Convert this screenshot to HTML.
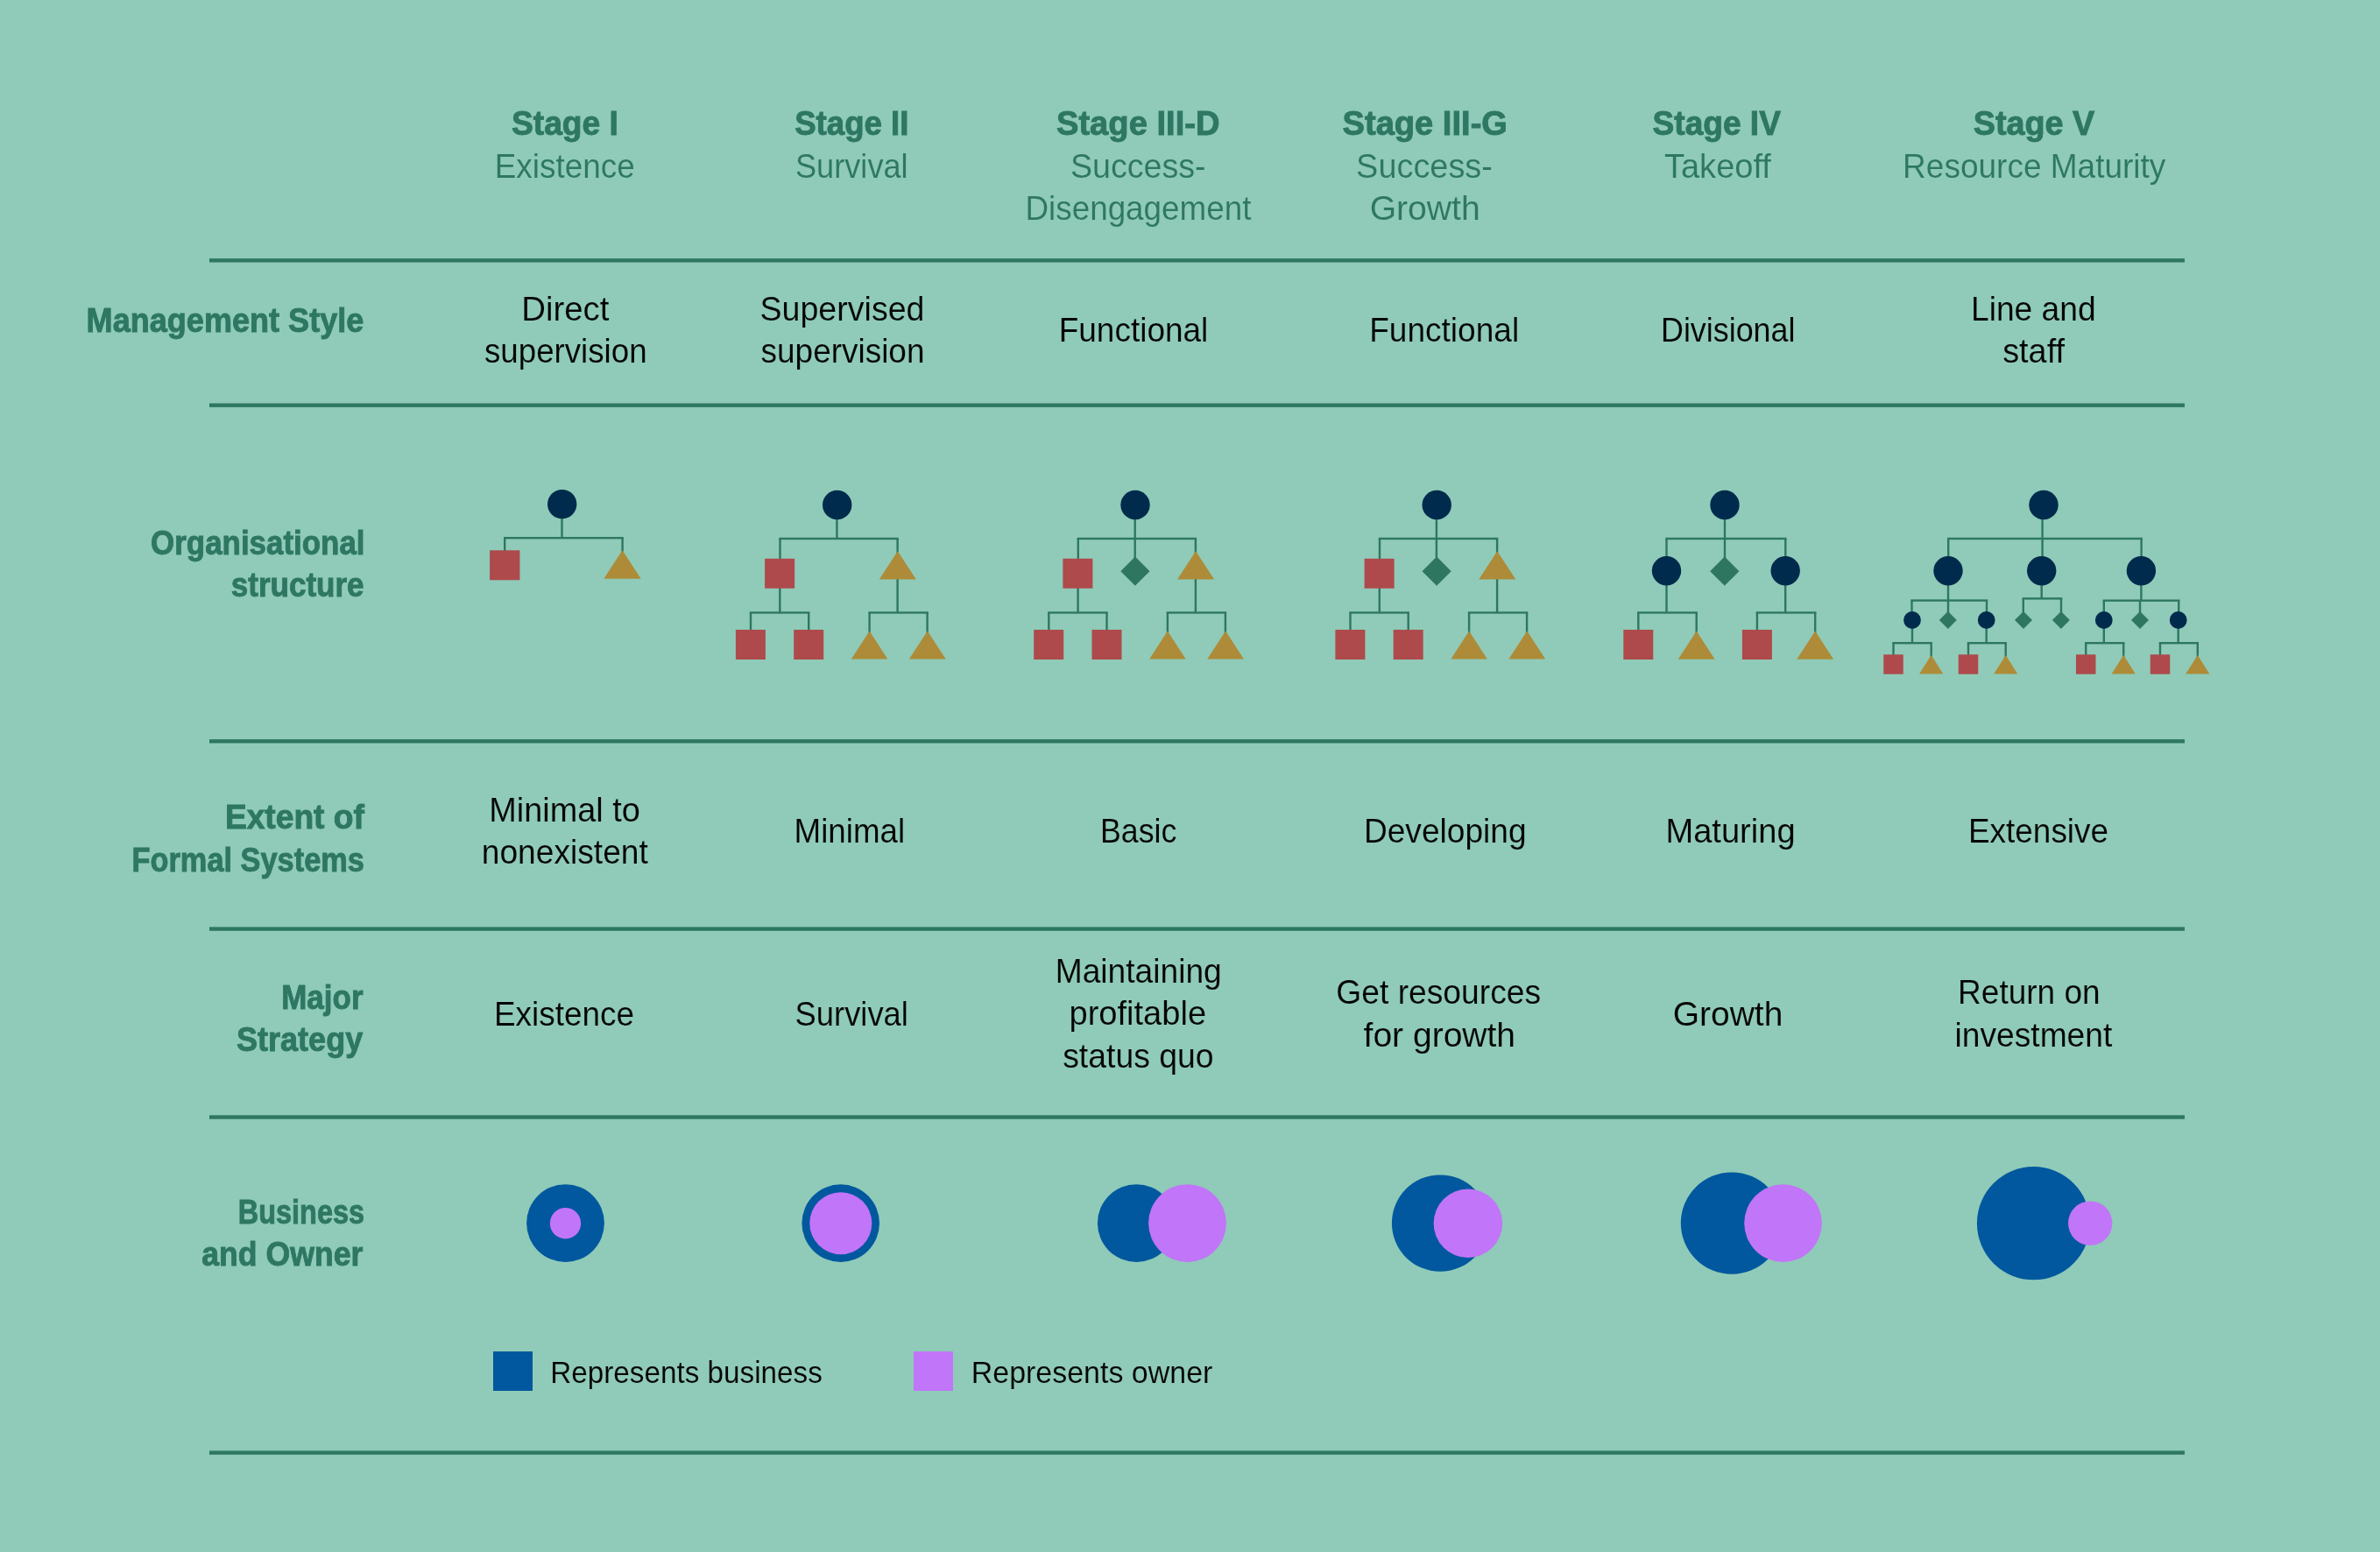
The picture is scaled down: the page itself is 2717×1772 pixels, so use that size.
<!DOCTYPE html>
<html><head><meta charset="utf-8"><title>Stages of small business growth</title>
<style>
html,body{margin:0;padding:0;background:#8fcbb8;}
body{width:2717px;height:1772px;overflow:hidden;}
svg{display:block;font-family:"Liberation Sans",sans-serif;will-change:transform;}
</style></head>
<body>
<svg width="2717" height="1772" viewBox="0 0 2717 1772">
<rect x="0" y="0" width="2717" height="1772" fill="#8fcbb8"/>
<rect x="239.00" y="295.10" width="2255.00" height="4.40" fill="#2e7762"/>
<rect x="239.00" y="460.50" width="2255.00" height="4.40" fill="#2e7762"/>
<rect x="239.00" y="844.10" width="2255.00" height="4.40" fill="#2e7762"/>
<rect x="239.00" y="1058.40" width="2255.00" height="4.40" fill="#2e7762"/>
<rect x="239.00" y="1273.30" width="2255.00" height="4.40" fill="#2e7762"/>
<rect x="239.00" y="1656.40" width="2255.00" height="4.40" fill="#2e7762"/>
<rect x="640.30" y="590.00" width="2.4" height="25.00" fill="#2e7762"/>
<rect x="575.00" y="613.00" width="136.80" height="2.4" fill="#2e7762"/>
<rect x="575.00" y="614.00" width="2.4" height="16.00" fill="#2e7762"/>
<rect x="709.40" y="614.00" width="2.4" height="16.00" fill="#2e7762"/>
<rect x="954.20" y="590.00" width="2.4" height="25.00" fill="#2e7762"/>
<rect x="889.30" y="613.80" width="136.50" height="2.4" fill="#2e7762"/>
<rect x="889.30" y="615.00" width="2.4" height="25.00" fill="#2e7762"/>
<rect x="1023.40" y="615.00" width="2.4" height="20.00" fill="#2e7762"/>
<rect x="889.10" y="670.00" width="2.4" height="29.50" fill="#2e7762"/>
<rect x="855.80" y="698.30" width="68.60" height="2.4" fill="#2e7762"/>
<rect x="855.80" y="699.50" width="2.4" height="21.50" fill="#2e7762"/>
<rect x="922.00" y="699.50" width="2.4" height="21.50" fill="#2e7762"/>
<rect x="1023.40" y="660.00" width="2.4" height="39.50" fill="#2e7762"/>
<rect x="991.40" y="698.30" width="68.40" height="2.4" fill="#2e7762"/>
<rect x="991.40" y="699.50" width="2.4" height="25.50" fill="#2e7762"/>
<rect x="1057.40" y="699.50" width="2.4" height="25.50" fill="#2e7762"/>
<rect x="1294.50" y="590.00" width="2.4" height="50.00" fill="#2e7762"/>
<rect x="1229.60" y="613.80" width="136.50" height="2.4" fill="#2e7762"/>
<rect x="1229.60" y="615.00" width="2.4" height="25.00" fill="#2e7762"/>
<rect x="1363.70" y="615.00" width="2.4" height="20.00" fill="#2e7762"/>
<rect x="1229.40" y="670.00" width="2.4" height="29.50" fill="#2e7762"/>
<rect x="1196.10" y="698.30" width="68.60" height="2.4" fill="#2e7762"/>
<rect x="1196.10" y="699.50" width="2.4" height="21.50" fill="#2e7762"/>
<rect x="1262.30" y="699.50" width="2.4" height="21.50" fill="#2e7762"/>
<rect x="1363.70" y="660.00" width="2.4" height="39.50" fill="#2e7762"/>
<rect x="1331.70" y="698.30" width="68.40" height="2.4" fill="#2e7762"/>
<rect x="1331.70" y="699.50" width="2.4" height="25.50" fill="#2e7762"/>
<rect x="1397.70" y="699.50" width="2.4" height="25.50" fill="#2e7762"/>
<rect x="1638.70" y="590.00" width="2.4" height="50.00" fill="#2e7762"/>
<rect x="1573.80" y="613.80" width="136.50" height="2.4" fill="#2e7762"/>
<rect x="1573.80" y="615.00" width="2.4" height="25.00" fill="#2e7762"/>
<rect x="1707.90" y="615.00" width="2.4" height="20.00" fill="#2e7762"/>
<rect x="1573.60" y="670.00" width="2.4" height="29.50" fill="#2e7762"/>
<rect x="1540.30" y="698.30" width="68.60" height="2.4" fill="#2e7762"/>
<rect x="1540.30" y="699.50" width="2.4" height="21.50" fill="#2e7762"/>
<rect x="1606.50" y="699.50" width="2.4" height="21.50" fill="#2e7762"/>
<rect x="1707.90" y="660.00" width="2.4" height="39.50" fill="#2e7762"/>
<rect x="1675.90" y="698.30" width="68.40" height="2.4" fill="#2e7762"/>
<rect x="1675.90" y="699.50" width="2.4" height="25.50" fill="#2e7762"/>
<rect x="1741.90" y="699.50" width="2.4" height="25.50" fill="#2e7762"/>
<rect x="1967.80" y="590.00" width="2.4" height="50.00" fill="#2e7762"/>
<rect x="1901.30" y="613.80" width="138.20" height="2.4" fill="#2e7762"/>
<rect x="1901.30" y="615.00" width="2.4" height="25.00" fill="#2e7762"/>
<rect x="2037.10" y="615.00" width="2.4" height="25.00" fill="#2e7762"/>
<rect x="1901.30" y="660.00" width="2.4" height="39.50" fill="#2e7762"/>
<rect x="1869.10" y="698.30" width="68.80" height="2.4" fill="#2e7762"/>
<rect x="1869.10" y="699.50" width="2.4" height="21.50" fill="#2e7762"/>
<rect x="1935.50" y="699.50" width="2.4" height="25.50" fill="#2e7762"/>
<rect x="2037.00" y="660.00" width="2.4" height="39.50" fill="#2e7762"/>
<rect x="2004.70" y="698.30" width="68.70" height="2.4" fill="#2e7762"/>
<rect x="2004.70" y="699.50" width="2.4" height="21.50" fill="#2e7762"/>
<rect x="2071.00" y="699.50" width="2.4" height="25.50" fill="#2e7762"/>
<rect x="2330.40" y="590.00" width="2.4" height="50.00" fill="#2e7762"/>
<rect x="2223.00" y="613.80" width="222.80" height="2.4" fill="#2e7762"/>
<rect x="2223.00" y="615.00" width="2.4" height="25.00" fill="#2e7762"/>
<rect x="2443.40" y="615.00" width="2.4" height="25.00" fill="#2e7762"/>
<rect x="2222.80" y="660.00" width="2.4" height="25.60" fill="#2e7762"/>
<rect x="2181.30" y="684.40" width="87.90" height="2.4" fill="#2e7762"/>
<rect x="2181.30" y="685.60" width="2.4" height="16.40" fill="#2e7762"/>
<rect x="2222.80" y="685.60" width="2.4" height="16.40" fill="#2e7762"/>
<rect x="2266.80" y="685.60" width="2.4" height="16.40" fill="#2e7762"/>
<rect x="2329.50" y="660.00" width="2.4" height="23.40" fill="#2e7762"/>
<rect x="2308.60" y="682.20" width="45.60" height="2.4" fill="#2e7762"/>
<rect x="2308.60" y="683.40" width="2.4" height="18.60" fill="#2e7762"/>
<rect x="2351.80" y="683.40" width="2.4" height="18.60" fill="#2e7762"/>
<rect x="2443.20" y="660.00" width="2.4" height="25.70" fill="#2e7762"/>
<rect x="2400.60" y="684.50" width="87.80" height="2.4" fill="#2e7762"/>
<rect x="2400.60" y="685.70" width="2.4" height="16.30" fill="#2e7762"/>
<rect x="2441.80" y="685.70" width="2.4" height="16.30" fill="#2e7762"/>
<rect x="2486.00" y="685.70" width="2.4" height="16.30" fill="#2e7762"/>
<rect x="2181.80" y="712.00" width="2.4" height="22.20" fill="#2e7762"/>
<rect x="2160.30" y="733.00" width="45.60" height="2.4" fill="#2e7762"/>
<rect x="2160.30" y="734.20" width="2.4" height="15.80" fill="#2e7762"/>
<rect x="2203.50" y="734.20" width="2.4" height="17.80" fill="#2e7762"/>
<rect x="2266.50" y="712.00" width="2.4" height="22.20" fill="#2e7762"/>
<rect x="2245.80" y="733.00" width="45.10" height="2.4" fill="#2e7762"/>
<rect x="2245.80" y="734.20" width="2.4" height="15.80" fill="#2e7762"/>
<rect x="2288.50" y="734.20" width="2.4" height="17.80" fill="#2e7762"/>
<rect x="2400.60" y="712.00" width="2.4" height="22.20" fill="#2e7762"/>
<rect x="2380.00" y="733.00" width="45.40" height="2.4" fill="#2e7762"/>
<rect x="2380.00" y="734.20" width="2.4" height="15.80" fill="#2e7762"/>
<rect x="2423.00" y="734.20" width="2.4" height="17.80" fill="#2e7762"/>
<rect x="2485.50" y="712.00" width="2.4" height="22.20" fill="#2e7762"/>
<rect x="2464.80" y="733.00" width="45.20" height="2.4" fill="#2e7762"/>
<rect x="2464.80" y="734.20" width="2.4" height="15.80" fill="#2e7762"/>
<rect x="2507.60" y="734.20" width="2.4" height="17.80" fill="#2e7762"/>
<circle cx="645.5" cy="1396.6" r="44.4" fill="#02589e"/>
<circle cx="645.5" cy="1396.7" r="17.7" fill="#c175f8"/>
<circle cx="959.7" cy="1396.6" r="44.3" fill="#02589e"/>
<circle cx="959.8" cy="1396.7" r="35.5" fill="#c175f8"/>
<circle cx="1297.3" cy="1396.6" r="44.4" fill="#02589e"/>
<circle cx="1355.5" cy="1396.6" r="44.4" fill="#c175f8"/>
<circle cx="1644.1" cy="1396.6" r="55.2" fill="#02589e"/>
<circle cx="1675.9" cy="1396.8" r="39.3" fill="#c175f8"/>
<circle cx="1977" cy="1396.6" r="58.2" fill="#02589e"/>
<circle cx="2035.5" cy="1396.6" r="44.3" fill="#c175f8"/>
<circle cx="2321.5" cy="1396.7" r="64.6" fill="#02589e"/>
<circle cx="2386.2" cy="1396.6" r="25.2" fill="#c175f8"/>
<rect x="563.00" y="1543.00" width="45.00" height="45.00" fill="#02589e"/>
<rect x="1043.00" y="1543.00" width="45.00" height="45.00" fill="#c175f8"/>
<circle cx="641.7" cy="575.6" r="16.7" fill="#002b4d"/>
<rect x="559.10" y="628.30" width="34.30" height="34.00" fill="#ae4a4c"/>
<path d="M710.50 628.30L731.65 660.80L689.35 660.80Z" fill="#ae8b38"/>
<circle cx="955.7" cy="576.5" r="16.7" fill="#002b4d"/>
<rect x="873.10" y="637.80" width="34.00" height="34.00" fill="#ae4a4c"/>
<path d="M1024.80 629.30L1045.80 661.60L1003.80 661.60Z" fill="#ae8b38"/>
<rect x="839.90" y="719.00" width="34.00" height="34.00" fill="#ae4a4c"/>
<rect x="906.20" y="719.00" width="34.00" height="34.00" fill="#ae4a4c"/>
<path d="M992.60 720.60L1013.35 752.60L971.85 752.60Z" fill="#ae8b38"/>
<path d="M1058.80 720.50L1079.70 752.60L1037.90 752.60Z" fill="#ae8b38"/>
<circle cx="1296.0" cy="576.5" r="16.7" fill="#002b4d"/>
<rect x="1213.40" y="637.80" width="34.00" height="34.00" fill="#ae4a4c"/>
<path d="M1365.10 629.30L1386.10 661.60L1344.10 661.60Z" fill="#ae8b38"/>
<rect x="1180.20" y="719.00" width="34.00" height="34.00" fill="#ae4a4c"/>
<rect x="1246.50" y="719.00" width="34.00" height="34.00" fill="#ae4a4c"/>
<path d="M1332.90 720.60L1353.65 752.60L1312.15 752.60Z" fill="#ae8b38"/>
<path d="M1399.10 720.50L1420.00 752.60L1378.20 752.60Z" fill="#ae8b38"/>
<path d="M1295.90 635.60L1312.50 652.20L1295.90 668.80L1279.30 652.20Z" fill="#2f7660"/>
<circle cx="1640.2" cy="576.5" r="16.7" fill="#002b4d"/>
<rect x="1557.60" y="637.80" width="34.00" height="34.00" fill="#ae4a4c"/>
<path d="M1709.30 629.30L1730.30 661.60L1688.30 661.60Z" fill="#ae8b38"/>
<rect x="1524.40" y="719.00" width="34.00" height="34.00" fill="#ae4a4c"/>
<rect x="1590.70" y="719.00" width="34.00" height="34.00" fill="#ae4a4c"/>
<path d="M1677.10 720.60L1697.85 752.60L1656.35 752.60Z" fill="#ae8b38"/>
<path d="M1743.30 720.50L1764.20 752.60L1722.40 752.60Z" fill="#ae8b38"/>
<path d="M1640.10 635.60L1656.70 652.20L1640.10 668.80L1623.50 652.20Z" fill="#2f7660"/>
<circle cx="1969" cy="576.5" r="16.7" fill="#002b4d"/>
<circle cx="1902.5" cy="651.7" r="16.7" fill="#002b4d"/>
<circle cx="2038.2" cy="651.7" r="16.7" fill="#002b4d"/>
<path d="M1968.80 635.60L1985.40 652.20L1968.80 668.80L1952.20 652.20Z" fill="#2f7660"/>
<rect x="1853.30" y="719.00" width="34.00" height="34.00" fill="#ae4a4c"/>
<path d="M1936.70 720.50L1957.65 752.80L1915.75 752.80Z" fill="#ae8b38"/>
<rect x="1988.90" y="719.00" width="34.00" height="34.00" fill="#ae4a4c"/>
<path d="M2072.20 720.50L2093.15 752.80L2051.25 752.80Z" fill="#ae8b38"/>
<circle cx="2333" cy="576.5" r="16.7" fill="#002b4d"/>
<circle cx="2224" cy="651.7" r="16.7" fill="#002b4d"/>
<circle cx="2330.7" cy="651.7" r="16.7" fill="#002b4d"/>
<circle cx="2444.4" cy="651.7" r="16.7" fill="#002b4d"/>
<circle cx="2183" cy="708" r="9.9" fill="#002b4d"/>
<path d="M2223.80 698.00L2233.80 708.00L2223.80 718.00L2213.80 708.00Z" fill="#2f7660"/>
<circle cx="2267.7" cy="708" r="9.9" fill="#002b4d"/>
<path d="M2310.00 698.00L2320.00 708.00L2310.00 718.00L2300.00 708.00Z" fill="#2f7660"/>
<path d="M2352.90 698.00L2362.90 708.00L2352.90 718.00L2342.90 708.00Z" fill="#2f7660"/>
<circle cx="2401.8" cy="708" r="9.9" fill="#002b4d"/>
<path d="M2443.00 698.00L2453.00 708.00L2443.00 718.00L2433.00 708.00Z" fill="#2f7660"/>
<circle cx="2486.7" cy="708" r="9.9" fill="#002b4d"/>
<rect x="2150.25" y="747.30" width="22.50" height="22.40" fill="#ae4a4c"/>
<path d="M2204.70 748.00L2218.30 769.50L2191.10 769.50Z" fill="#ae8b38"/>
<rect x="2235.75" y="747.30" width="22.50" height="22.40" fill="#ae4a4c"/>
<path d="M2289.70 748.00L2303.30 769.50L2276.10 769.50Z" fill="#ae8b38"/>
<rect x="2369.95" y="747.30" width="22.50" height="22.40" fill="#ae4a4c"/>
<path d="M2424.20 748.00L2437.80 769.50L2410.60 769.50Z" fill="#ae8b38"/>
<rect x="2454.75" y="747.30" width="22.50" height="22.40" fill="#ae4a4c"/>
<path d="M2508.80 748.00L2522.40 769.50L2495.20 769.50Z" fill="#ae8b38"/>
<text transform="translate(583.96 153.8) scale(1.0333 1.06)" fill="#2e7762" font-size="36" font-weight="bold" stroke="#2e7762" stroke-width="0.85">Stage I</text>
<text transform="translate(564.72 202.6) scale(1.0258 1.06)" fill="#2e7762" font-size="36" stroke="#8fcbb8" stroke-width="0.12">Existence</text>
<text transform="translate(907.17 153.8) scale(1.0179 1.06)" fill="#2e7762" font-size="36" font-weight="bold" stroke="#2e7762" stroke-width="0.85">Stage II</text>
<text transform="translate(907.99 202.6) scale(1.0050 1.06)" fill="#2e7762" font-size="36" stroke="#8fcbb8" stroke-width="0.12">Survival</text>
<text transform="translate(1205.93 154.0) scale(1.0610 1.06)" fill="#2e7762" font-size="36" font-weight="bold" stroke="#2e7762" stroke-width="0.85">Stage III-D</text>
<text transform="translate(1221.91 202.8) scale(1.0450 1.06)" fill="#2e7762" font-size="36" stroke="#8fcbb8" stroke-width="0.12">Success-</text>
<text transform="translate(1170.53 250.7) scale(1.0229 1.06)" fill="#2e7762" font-size="36" stroke="#8fcbb8" stroke-width="0.12">Disengagement</text>
<text transform="translate(1532.52 153.8) scale(1.0589 1.06)" fill="#2e7762" font-size="36" font-weight="bold" stroke="#2e7762" stroke-width="0.85">Stage III-G</text>
<text transform="translate(1548.12 202.8) scale(1.0525 1.06)" fill="#2e7762" font-size="36" stroke="#8fcbb8" stroke-width="0.12">Success-</text>
<text transform="translate(1563.64 250.7) scale(1.0873 1.06)" fill="#2e7762" font-size="36" stroke="#8fcbb8" stroke-width="0.12">Growth</text>
<text transform="translate(1886.55 153.8) scale(1.0306 1.06)" fill="#2e7762" font-size="36" font-weight="bold" stroke="#2e7762" stroke-width="0.85">Stage IV</text>
<text transform="translate(1899.94 202.7) scale(1.0568 1.06)" fill="#2e7762" font-size="36" stroke="#8fcbb8" stroke-width="0.12">Takeoff</text>
<text transform="translate(2252.72 153.8) scale(1.0499 1.06)" fill="#2e7762" font-size="36" font-weight="bold" stroke="#2e7762" stroke-width="0.85">Stage V</text>
<text transform="translate(2172.12 202.8) scale(1.0281 1.06)" fill="#2e7762" font-size="36" stroke="#8fcbb8" stroke-width="0.12">Resource Maturity</text>
<text transform="translate(98.58 378.7) scale(1.0026 1.06)" fill="#2e7762" font-size="36" font-weight="bold" stroke="#2e7762" stroke-width="0.85">Management Style</text>
<text transform="translate(172.03 632.7) scale(0.9703 1.06)" fill="#2e7762" font-size="36" font-weight="bold" stroke="#2e7762" stroke-width="0.85">Organisational</text>
<text transform="translate(263.83 680.8) scale(0.9728 1.06)" fill="#2e7762" font-size="36" font-weight="bold" stroke="#2e7762" stroke-width="0.85">structure</text>
<text transform="translate(256.89 946) scale(1.0326 1.06)" fill="#2e7762" font-size="36" font-weight="bold" stroke="#2e7762" stroke-width="0.85">Extent of</text>
<text transform="translate(150.50 994.8) scale(0.9548 1.06)" fill="#2e7762" font-size="36" font-weight="bold" stroke="#2e7762" stroke-width="0.85">Formal Systems</text>
<text transform="translate(321.23 1151.7) scale(0.9715 1.06)" fill="#2e7762" font-size="36" font-weight="bold" stroke="#2e7762" stroke-width="0.85">Major</text>
<text transform="translate(269.98 1199.8) scale(1.0016 1.06)" fill="#2e7762" font-size="36" font-weight="bold" stroke="#2e7762" stroke-width="0.85">Strategy</text>
<text transform="translate(271.80 1396.7) scale(0.9009 1.06)" fill="#2e7762" font-size="36" font-weight="bold" stroke="#2e7762" stroke-width="0.85">Business</text>
<text transform="translate(230.19 1444.8) scale(0.9909 1.06)" fill="#2e7762" font-size="36" font-weight="bold" stroke="#2e7762" stroke-width="0.85">and Owner</text>
<text transform="translate(595.21 365.9) scale(1.0669 1.06)" fill="#050505" font-size="36" stroke="#8fcbb8" stroke-width="0.12">Direct</text>
<text transform="translate(552.98 414.1) scale(1.0196 1.06)" fill="#050505" font-size="36" stroke="#8fcbb8" stroke-width="0.12">supervision</text>
<text transform="translate(867.51 366) scale(1.0443 1.06)" fill="#050505" font-size="36" stroke="#8fcbb8" stroke-width="0.12">Supervised</text>
<text transform="translate(868.56 414) scale(1.0269 1.06)" fill="#050505" font-size="36" stroke="#8fcbb8" stroke-width="0.12">supervision</text>
<text transform="translate(1208.72 390.2) scale(1.0274 1.06)" fill="#050505" font-size="36" stroke="#8fcbb8" stroke-width="0.12">Functional</text>
<text transform="translate(1563.13 390) scale(1.0298 1.06)" fill="#050505" font-size="36" stroke="#8fcbb8" stroke-width="0.12">Functional</text>
<text transform="translate(1896.00 390) scale(0.9961 1.06)" fill="#050505" font-size="36" stroke="#8fcbb8" stroke-width="0.12">Divisional</text>
<text transform="translate(2249.93 365.9) scale(1.0338 1.06)" fill="#050505" font-size="36" stroke="#8fcbb8" stroke-width="0.12">Line and</text>
<text transform="translate(2286.15 413.9) scale(1.0515 1.06)" fill="#050505" font-size="36" stroke="#8fcbb8" stroke-width="0.12">staff</text>
<text transform="translate(558.26 938.2) scale(1.0526 1.06)" fill="#050505" font-size="36" stroke="#8fcbb8" stroke-width="0.12">Minimal to</text>
<text transform="translate(549.73 986) scale(1.0325 1.06)" fill="#050505" font-size="36" stroke="#8fcbb8" stroke-width="0.12">nonexistent</text>
<text transform="translate(906.52 961.8) scale(1.0222 1.06)" fill="#050505" font-size="36" stroke="#8fcbb8" stroke-width="0.12">Minimal</text>
<text transform="translate(1255.99 961.9) scale(0.9925 1.06)" fill="#050505" font-size="36" stroke="#8fcbb8" stroke-width="0.12">Basic</text>
<text transform="translate(1556.91 962) scale(1.0314 1.06)" fill="#050505" font-size="36" stroke="#8fcbb8" stroke-width="0.12">Developing</text>
<text transform="translate(1901.47 962) scale(1.0582 1.06)" fill="#050505" font-size="36" stroke="#8fcbb8" stroke-width="0.12">Maturing</text>
<text transform="translate(2246.94 962) scale(1.0262 1.06)" fill="#050505" font-size="36" stroke="#8fcbb8" stroke-width="0.12">Extensive</text>
<text transform="translate(563.94 1170.6) scale(1.0262 1.06)" fill="#050505" font-size="36" stroke="#8fcbb8" stroke-width="0.12">Existence</text>
<text transform="translate(907.56 1170.6) scale(1.0100 1.06)" fill="#050505" font-size="36" stroke="#8fcbb8" stroke-width="0.12">Survival</text>
<text transform="translate(1204.71 1121.6) scale(1.0329 1.06)" fill="#050505" font-size="36" stroke="#8fcbb8" stroke-width="0.12">Maintaining</text>
<text transform="translate(1220.46 1170.2) scale(1.0575 1.06)" fill="#050505" font-size="36" stroke="#8fcbb8" stroke-width="0.12">profitable</text>
<text transform="translate(1213.18 1218.6) scale(1.0377 1.06)" fill="#050505" font-size="36" stroke="#8fcbb8" stroke-width="0.12">status quo</text>
<text transform="translate(1525.34 1146) scale(1.0340 1.06)" fill="#050505" font-size="36" stroke="#8fcbb8" stroke-width="0.12">Get resources</text>
<text transform="translate(1556.54 1194.7) scale(1.0844 1.06)" fill="#050505" font-size="36" stroke="#8fcbb8" stroke-width="0.12">for growth</text>
<text transform="translate(1909.67 1170.7) scale(1.0836 1.06)" fill="#050505" font-size="36" stroke="#8fcbb8" stroke-width="0.12">Growth</text>
<text transform="translate(2235.11 1146.3) scale(1.0276 1.06)" fill="#050505" font-size="36" stroke="#8fcbb8" stroke-width="0.12">Return on</text>
<text transform="translate(2231.54 1194.6) scale(1.0330 1.06)" fill="#050505" font-size="36" stroke="#8fcbb8" stroke-width="0.12">investment</text>
<text transform="translate(628.18 1578.7) scale(1.0089 1.06)" fill="#050505" font-size="33" stroke="#8fcbb8" stroke-width="0.12">Represents business</text>
<text transform="translate(1108.74 1578.7) scale(1.0294 1.06)" fill="#050505" font-size="33" stroke="#8fcbb8" stroke-width="0.12">Represents owner</text>
</svg>
</body></html>
